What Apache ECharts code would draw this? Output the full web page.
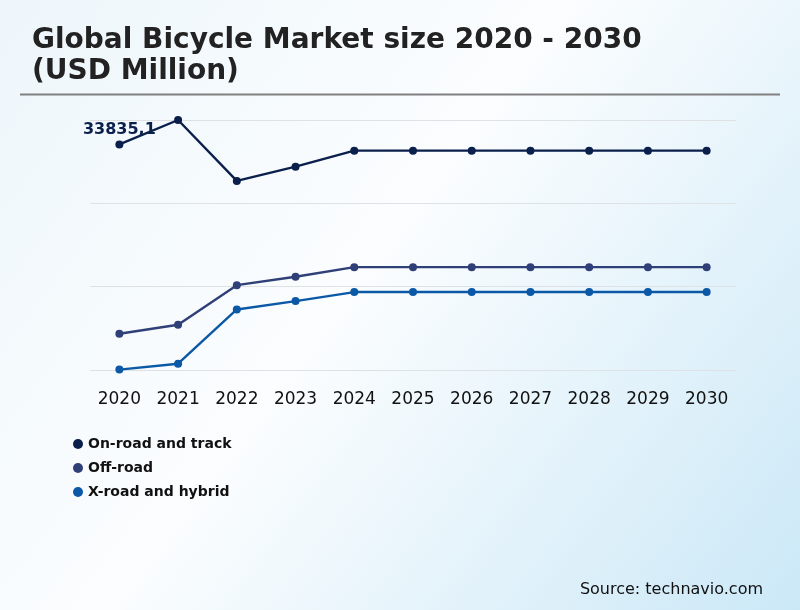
<!DOCTYPE html>
<html lang="en">
<head>
  <meta charset="UTF-8">
  <title>Global Bicycle Market</title>
  <style>
    html, body { margin: 0; padding: 0; }
  </style>
</head>
<body>
<div id="main" style="width: 800px;height: 610px"></div>
<script type="text/javascript" src="https://cdn.jsdelivr.net/npm/echarts@6/dist/echarts.min.js"></script>

<script>
var years = ['2020', '2021', '2022', '2023', '2024', '2025', '2026', '2027', '2028', '2029', '2030'];
var onRoad = [33835.1, 37500, 28360, 30500, 32900, 32900, 32900, 32900, 32900, 32900, 32900];
var offRoad = [5440, 6790, 12730, 13980, 15430, 15430, 15430, 15430, 15430, 15430, 15430];
var xRoad = [60, 940, 9080, 10340, 11690, 11690, 11690, 11690, 11690, 11690, 11690];
var seriesNames = ['On-road and track', 'Off-road', 'X-road and hybrid'];
var seriesColors = ['#0a1f4b', '#2f3f78', '#0b58a6'];

var font = 'DejaVu Sans';

function lineSeries(name, data, color) {
  return {
    name: name,
    type: 'line',
    data: data,
    symbol: 'circle',
    symbolSize: 8,
    clip: false,
    lineStyle: { width: 2.4, color: color },
    itemStyle: { color: color },
    emphasis: { disabled: true }
  };
}

var series = [
  lineSeries(seriesNames[0], onRoad, seriesColors[0]),
  lineSeries(seriesNames[1], offRoad, seriesColors[1]),
  lineSeries(seriesNames[2], xRoad, seriesColors[2])
];
// only the first value is labelled in the picture
series[0].data = onRoad.map(function (v, i) {
  if (i !== 0) return v;
  return {
    value: v,
    label: {
      show: true,
      position: 'top',
      distance: 3,
      formatter: String(v).replace('.', ','),
      fontFamily: font,
      fontWeight: 'bold',
      fontSize: 16,
      color: seriesColors[0]
    }
  };
});

var option = {
  animation: false,
  backgroundColor: new echarts.graphic.LinearGradient(0, 0, 1, 1, [
    { offset: 0, color: '#edf6fb' },
    { offset: 0.45, color: '#fbfdfe' },
    { offset: 1, color: '#cbe8f7' }
  ]),
  title: {
    text: 'Global Bicycle Market size 2020 - 2030\n(USD Million)',
    left: 27,
    top: 20,
    textStyle: {
      fontFamily: font,
      fontWeight: 'bold',
      fontSize: 28,
      lineHeight: 31,
      color: '#222222'
    }
  },
  graphic: [
    {
      type: 'line',
      shape: { x1: 20, y1: 94.5, x2: 780, y2: 94.5 },
      style: { stroke: '#808080', lineWidth: 2 }
    },
    {
      type: 'text',
      right: 37,
      top: 582,
      style: {
        text: 'Source: technavio.com',
        fontFamily: font,
        fontSize: 16,
        fill: '#111111'
      }
    }
  ],
  legend: {
    orient: 'vertical',
    left: 68,
    top: 432,
    itemGap: 10,
    itemWidth: 10,
    itemHeight: 10,
    icon: 'circle',
    data: seriesNames,
    textStyle: {
      fontFamily: font,
      fontWeight: 'bold',
      fontSize: 14,
      color: '#111111'
    }
  },
  grid: {
    left: 90,
    right: 64,
    top: 120,
    height: 250,
    containLabel: false
  },
  xAxis: {
    type: 'category',
    data: years,
    boundaryGap: true,
    axisLine: { show: false },
    axisTick: { show: false },
    axisLabel: {
      margin: 21,
      fontFamily: font,
      fontSize: 17,
      color: '#111111'
    }
  },
  yAxis: {
    type: 'value',
    min: 0,
    max: 37500,
    interval: 12500,
    axisLabel: { show: false },
    axisLine: { show: false },
    axisTick: { show: false },
    splitLine: { lineStyle: { color: '#dfe2e5', width: 1 } }
  },
  series: series
};

var myChart = echarts.init(document.getElementById('main'));
myChart.setOption(option);
</script>
</body>
</html>
